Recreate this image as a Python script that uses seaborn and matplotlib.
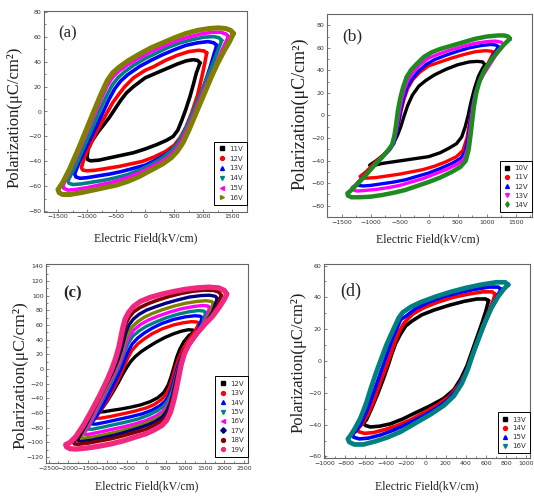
import matplotlib
matplotlib.use("Agg")
import matplotlib.pyplot as plt
from matplotlib.lines import Line2D
from matplotlib.ticker import MultipleLocator
import seaborn as sns
import pandas as pd

# ---------------- data: panel (a) ----------------
a_labels = ["11V", "12V", "13V", "14V", "15V", "16V"]
a11_E = [942, 900, 820, 700, 550, 400, 200, 0, -200, -320, -420, -520, -620, -720, -820, -920, -980, -1000,
         -990, -940, -800, -600, -400, -200, 0, 200, 370, 480, 560, 630, 700, 770, 830, 880, 920, 942]
a11_P = [39, 41, 41.5, 40.5, 38, 35, 31, 27, 20, 15, 9, 2, -5, -11, -17, -24, -30, -36,
         -38.5, -39.5, -39, -37, -35, -33, -30, -26.5, -23, -20, -15, -7, 2, 12, 22, 31, 36, 39]
a12_E = [1057, 1010, 920, 750, 550, 350, 150, 0, -200, -350, -450, -560, -680, -800, -920, -1040, -1098,
         -1070, -1000, -850, -650, -450, -250, -50, 150, 350, 500, 600, 700, 800, 900, 980, 1030, 1057]
a12_P = [47, 48.5, 49, 48, 45, 41, 36, 33, 27, 20, 14, 7, -3, -13, -24, -36, -45,
         -47, -47.5, -47, -45.5, -44, -42, -40, -36.5, -32, -27, -21, -12.5, -1, 13, 29, 40, 47]
a13_E = [1230, 1180, 1080, 900, 700, 500, 300, 100, -100, -300, -420, -520, -620, -720, -850, -1000, -1130, -1213,
         -1190, -1120, -1000, -800, -600, -400, -200, 0, 200, 400, 520, 620, 720, 820, 920, 1020, 1120, 1190, 1230]
a13_P = [53, 55, 56, 55, 53, 49.5, 45.5, 41, 36, 29.5, 24.5, 18.5, 10, 0, -13, -27, -40, -50,
         -52.5, -53.5, -53, -51.5, -50, -48, -45.5, -43, -38.5, -33, -28, -21.5, -13, -2, 9, 22, 36, 47, 53]
a14_E = [1316, 1270, 1180, 1000, 800, 600, 400, 200, 0, -200, -350, -470, -570, -670, -780, -900, -1050, -1200, -1328,
         -1310, -1240, -1100, -900, -700, -500, -300, -100, 100, 300, 450, 560, 660, 760, 860, 960, 1060, 1160, 1250, 1316]
a14_P = [57, 59, 60, 59.5, 57.5, 55, 51.5, 47, 42.5, 37, 32, 27, 21, 12, 1, -12, -28, -44, -55.5,
         -57.5, -58.5, -58, -56.5, -55, -53, -50.5, -47, -42.5, -37, -31.5, -25.5, -17, -7, 4, 15, 27, 38, 49, 57]
a15_E = [1431, 1390, 1300, 1150, 950, 700, 500, 300, 100, -100, -300, -450, -560, -650, -750, -850, -1000, -1150, -1300, -1414,
         -1400, -1330, -1200, -1000, -800, -600, -400, -200, 0, 200, 400, 520, 620, 720, 820, 920, 1020, 1120, 1220, 1330, 1431]
a15_P = [60, 62, 63.5, 63.5, 62, 59, 56, 52, 48, 43, 37.5, 32.5, 27.5, 21, 11, 0, -16, -33, -48, -59.5,
         -61.5, -63, -62.5, -61, -59, -57, -54.5, -51, -47, -42, -36.5, -31, -24, -14.5, -4, 7, 18, 28, 38, 50, 60]
a16_E = [1517, 1470, 1380, 1250, 1100, 900, 700, 500, 300, 100, -100, -300, -450, -560, -650, -750, -850, -1000, -1150, -1300, -1420, -1500,
         -1480, -1420, -1300, -1100, -900, -700, -500, -300, -100, 100, 300, 450, 550, 650, 750, 850, 950, 1050, 1150, 1250, 1350, 1450, 1517]
a16_P = [62.5, 65, 66.5, 67, 66.5, 65, 62.5, 59, 55, 51, 46, 40.5, 35.5, 31, 25, 15, 4, -13, -30, -46, -57, -62.5,
         -65, -66.5, -66.5, -65, -63, -61, -59, -56, -52, -47, -42, -37, -32, -25, -15, -4, 7, 18, 29, 39, 48, 56, 62.5]

# ---------------- data: panel (b) ----------------
b_labels = ["10V", "11V", "12V", "13V", "14V"]
b10_E = [970, 930, 840, 700, 500, 300, 100, -50, -170, -280, -360, -420, -480, -540, -600, -660, -780, -900, -1015,
         -1000, -920, -800, -600, -400, -200, 0, 200, 350, 480, 570, 630, 680, 730, 790, 860, 930, 970]
b10_P = [45, 47.5, 48, 47.5, 45, 41, 36, 31, 26, 18, 9, 0, -10, -18, -24, -29, -35, -40, -44,
         -45, -44, -42.5, -41, -39.5, -38, -36.5, -33, -29, -25, -19, -10, 0, 12, 24, 35, 42, 45]
b11_E = [1120, 1080, 980, 800, 600, 400, 200, 0, -150, -270, -360, -420, -470, -510, -550, -600, -680, -800, -950, -1080, -1180,
         -1150, -1050, -900, -700, -500, -300, -100, 100, 300, 480, 590, 660, 700, 740, 790, 860, 940, 1040, 1120]
b11_P = [56, 57, 57.5, 56.5, 54, 51, 47.5, 44, 38.5, 32, 24, 15, 5, -5, -14, -23, -30, -36, -43, -50, -54,
         -55.5, -55.5, -55, -53.5, -52, -50, -48, -45, -41, -36.5, -31, -20, -8, 4, 16, 28, 38, 48, 56]
b12_E = [1200, 1160, 1070, 900, 700, 500, 300, 100, -50, -180, -290, -370, -430, -480, -520, -555, -600, -680, -800, -950, -1100, -1230,
         -1200, -1130, -1000, -800, -600, -400, -200, 0, 200, 400, 550, 630, 680, 710, 740, 780, 840, 920, 1020, 1120, 1200]
b12_P = [61, 62.5, 63, 62, 60, 57, 53.5, 49.5, 45, 39, 32, 25, 16, 5, -6, -16, -25, -31, -37, -45, -53, -60,
         -62, -62.5, -62, -60.5, -59, -57, -54, -51, -47, -42.5, -38, -32, -20, -8, 4, 15, 26, 35, 44, 54, 61]
b13_E = [1290, 1250, 1150, 1000, 800, 600, 400, 200, 0, -150, -270, -360, -420, -470, -510, -545, -580, -630, -720, -850, -1000, -1150, -1270, -1320,
         -1300, -1230, -1100, -900, -700, -500, -300, -100, 100, 300, 500, 610, 670, 700, 730, 760, 800, 860, 940, 1040, 1150, 1240, 1290]
b13_P = [63, 65, 66, 65.5, 64, 61.5, 58.5, 55, 51, 45, 38, 31, 23, 13, 2, -9, -19, -27, -32, -40, -48, -56, -62, -64,
         -66, -67, -66.5, -65.5, -64, -62, -59, -56, -52, -48, -43, -38.5, -30, -18, -5, 7, 18, 28, 36, 44, 53, 59, 63]
b14_E = [1400, 1370, 1300, 1200, 1000, 800, 600, 400, 200, 50, -80, -200, -300, -380, -440, -490, -530, -560, -590, -630, -700, -800, -950, -1100, -1250, -1350, -1400,
         -1390, -1330, -1200, -1000, -800, -600, -400, -200, 0, 200, 400, 550, 640, 690, 720, 750, 780, 820, 880, 960, 1060, 1180, 1300, 1400]
b14_P = [68, 70, 71, 71, 70, 68, 65, 62, 59, 56, 52, 46, 40.5, 34, 25, 15, 4, -8, -18, -26, -31, -37, -45, -54, -62, -67, -69,
         -71, -72.5, -72.5, -72, -70.5, -68.5, -66, -62.5, -59, -55, -50, -45.5, -40, -30, -18, -5, 8, 20, 31, 40, 48, 56, 63, 68]

# ---------------- data: panel (c) ----------------
c_labels = ["12V", "13V", "14V", "15V", "16V", "17V", "18V", "19V"]
c12_E = [1250, 1200, 1080, 900, 700, 480, 250, 50, -120, -280, -400, -500, -600, -720, -850, -1000, -1120, -1180,
         -1160, -1060, -900, -650, -400, -150, 100, 300, 450, 560, 640, 710, 780, 860, 960, 1100, 1250]
c12_P = [51, 53, 53.5, 51.5, 48, 43, 36.5, 30, 24, 17, 10, 2, -7, -19, -31, -44, -53, -57,
         -58.5, -58, -56.5, -54.5, -52, -49, -44.5, -39, -32, -22, -10, 3, 16, 27, 37, 46, 51]
c13_E = [1350, 1300, 1160, 950, 700, 400, 150, -50, -220, -370, -480, -570, -660, -780, -950, -1150, -1290,
         -1270, -1170, -900, -600, -300, 0, 200, 380, 500, 600, 670, 740, 820, 930, 1070, 1230, 1350]
c13_P = [62, 64, 64.5, 63, 60, 54.5, 48, 41, 34, 25, 14, 3, -8, -21, -38, -56, -65,
         -67, -67, -64.5, -61, -57.5, -53, -48.5, -42, -35, -25, -13, 0, 13, 26, 38, 50, 62]
c14_E = [1430, 1380, 1240, 1000, 700, 400, 150, -50, -220, -360, -460, -550, -640, -750, -900, -1100, -1300, -1400,
         -1380, -1280, -1000, -700, -400, -100, 150, 350, 480, 580, 660, 730, 800, 890, 1020, 1180, 1340, 1430]
c14_P = [70, 72, 72.5, 71, 67.5, 62, 55.5, 49, 42, 34, 24, 13, 1, -12, -28, -49, -67, -73,
         -75, -75, -72, -68.5, -65, -61, -56, -50, -44, -36, -25, -12, 2, 15, 28, 40, 55, 70]
c15_E = [1520, 1470, 1330, 1100, 800, 500, 200, 0, -180, -340, -450, -540, -620, -720, -850, -1050, -1250, -1430, -1500,
         -1480, -1380, -1100, -800, -500, -200, 50, 280, 440, 560, 650, 720, 790, 870, 980, 1130, 1320, 1450, 1520]
c15_P = [77, 79, 79.5, 78, 74.5, 69.5, 63, 58, 52, 45, 36, 25, 13, 0, -14, -35, -56, -75, -80,
         -82, -82, -79, -75.5, -72, -68, -63, -57, -51, -43, -32, -19, -4, 10, 23, 36, 50, 63, 77]
c16_E = [1620, 1570, 1430, 1200, 900, 600, 300, 50, -150, -320, -440, -530, -600, -690, -800, -950, -1150, -1350, -1530, -1600,
         -1580, -1480, -1200, -900, -600, -300, 0, 250, 420, 540, 630, 700, 760, 830, 920, 1050, 1220, 1420, 1550, 1620]
c16_P = [84, 86, 86.5, 85, 82, 77.5, 72, 66.5, 60.5, 53, 44, 33, 21, 8, -5, -20, -42, -64, -83, -87,
         -89, -89, -86, -82.5, -79, -75, -70, -64, -58, -50, -40, -28, -14, 1, 15, 28, 41, 56, 71, 84]
cX_E = [1720, 1670, 1530, 1300, 1000, 700, 400, 150, -50, -220, -360, -460, -540, -600, -680, -780, -900, -1100, -1300, -1500, -1630, -1680,
        -1660, -1570, -1300, -1000, -700, -400, -100, 150, 350, 480, 580, 660, 720, 780, 850, 940, 1080, 1250, 1450, 1620, 1720]
cX_P = [90, 92, 93, 92, 89.5, 85.5, 80.5, 75.5, 70.5, 64.5, 57.5, 49, 38, 27, 14, 1, -12, -33, -54, -75, -88, -92,
        -94, -94, -92, -88.5, -85, -80.5, -75.5, -70, -65, -58, -49, -37, -24, -10, 5, 19, 32, 44, 58, 75, 90]
c17_E = [1820, 1770, 1620, 1400, 1100, 800, 500, 250, 0, -180, -330, -440, -520, -580, -640, -720, -820, -950, -1150, -1350, -1550, -1700, -1760,
         -1740, -1650, -1400, -1100, -800, -500, -200, 50, 250, 420, 530, 610, 680, 740, 800, 860, 950, 1100, 1300, 1500, 1700, 1820]
c17_P = [96, 99, 100.5, 100, 98, 94, 89.5, 85, 80, 74.5, 68, 60, 50, 38, 26, 13, 0, -14, -35, -56, -77, -91, -96,
         -98, -98.5, -97, -93.5, -90, -85.5, -80.5, -76, -71, -65, -57, -47, -34, -20, -6, 8, 22, 35, 48, 61, 78, 96]
c18_E = [1920, 1870, 1730, 1500, 1200, 900, 600, 300, 50, -150, -320, -430, -520, -580, -640, -700, -780, -880, -1000, -1200, -1400, -1600, -1760, -1860,
         -1840, -1750, -1500, -1200, -900, -600, -300, 0, 200, 400, 520, 610, 680, 740, 800, 860, 940, 1060, 1250, 1450, 1650, 1830, 1920]
c18_P = [100, 104.5, 107, 107.5, 106, 103, 99, 94, 89, 84, 78, 71, 62, 50, 36, 24, 10, -3, -16, -38, -58, -78, -93, -100,
         -102, -102.5, -101, -98, -95, -91, -86.5, -82, -77, -71, -64, -54, -40, -27, -12, 4, 18, 32, 45, 57, 70, 88, 100]
c19_E = [2060, 2000, 1850, 1600, 1300, 1000, 700, 400, 100, -150, -330, -450, -540, -600, -650, -700, -780, -880, -1000, -1200, -1400, -1600, -1800, -1950, -2060,
         -2040, -1950, -1800, -1500, -1200, -900, -600, -300, 0, 200, 400, 520, 620, 700, 760, 820, 890, 970, 1100, 1300, 1500, 1700, 1880, 2000, 2060]
c19_P = [102, 107, 110.5, 111.5, 110.5, 108.5, 105.5, 102, 97.5, 92, 85, 77, 68, 56, 43, 30, 15, 0, -15, -37, -57, -76, -92, -100, -103,
         -106, -108.5, -109, -107.5, -105, -102, -98, -93, -88, -83, -77, -70, -59, -44, -30, -14, 5, 20, 35, 49, 61, 72, 85, 95, 102]

# ---------------- data: panel (d) ----------------
d_labels = ["13V", "14V", "15V", "16V"]
d13_E = [625, 595, 510, 380, 230, 80, -40, -140, -200, -250, -300, -340, -370, -420, -480, -540, -590, -620,
         -600, -550, -460, -350, -230, -100, 50, 180, 280, 350, 410, 460, 510, 560, 600, 625]
d13_P = [38, 39, 39, 37.5, 35, 32, 29, 25, 22, 17, 11, 4, -2, -11, -21, -30, -37, -39,
         -40.5, -41.5, -41, -39.5, -36.5, -32.5, -28, -23.5, -18, -11, -3, 6, 15, 24, 32, 38]
d14_E = [690, 660, 570, 420, 270, 120, -20, -130, -215, -260, -300, -345, -395, -450, -510, -570, -630, -680,
         -665, -610, -520, -400, -280, -150, -20, 120, 240, 330, 400, 450, 500, 560, 620, 670, 690]
d14_P = [42, 43.5, 43.5, 42, 40, 37, 33.5, 29.5, 24, 19, 13, 5, -4, -13, -24, -33, -39.5, -43,
         -44.5, -45.5, -45, -43, -40.5, -37, -32.5, -27.5, -22, -15, -7, 1, 10, 20, 30, 38, 42]
d15_E = [750, 720, 630, 480, 330, 180, 30, -100, -190, -250, -290, -330, -375, -425, -475, -530, -590, -650, -700, -730,
         -715, -660, -570, -450, -320, -180, -40, 100, 220, 310, 380, 440, 490, 545, 610, 680, 730, 750]
d15_P = [45, 46.5, 46.5, 45, 43, 40.5, 37, 33, 28.5, 26, 20, 14, 6, -3, -12, -22, -32, -40, -44.5, -46,
         -48, -49, -48.5, -46.5, -43.5, -39.5, -35, -30, -24.5, -18, -10, -1, 8, 17, 27, 37, 43, 45]
d16_E = [820, 790, 700, 550, 400, 250, 100, -50, -150, -230, -270, -310, -350, -395, -445, -495, -545, -595, -650, -710, -750, -775,
         -760, -710, -620, -500, -380, -250, -100, 50, 180, 280, 360, 420, 470, 520, 580, 650, 720, 780, 820]
d16_P = [48, 49.5, 49.5, 48, 46, 43.5, 40.5, 37, 34, 30.5, 27, 21.5, 16, 9.5, 1, -7.5, -17, -27, -36, -43, -47, -49,
         -51, -52.5, -52.5, -50.5, -48, -44.5, -39, -33.5, -28, -22, -14, -5, 4.5, 13, 23, 33, 40.5, 45.5, 48]

BLACK, RED, BLUE, TEAL, MAG, OLIVE = "#000000", "#FF0000", "#0000FF", "#008080", "#FF00FF", "#808000"
NAVY, WINE, PINK, GREEN = "#000080", "#800000", "#F0287F", "#1F8A1F"

sns.set_style("ticks")
plt.rcParams["font.family"] = ["DejaVu Sans"]

fig = plt.figure(figsize=(5.34, 4.98), dpi=100)

def make_ax(px_left, px_right, px_top, px_bottom):
    W, H = 534.0, 498.0
    return fig.add_axes([px_left / W, 1 - px_bottom / H, (px_right - px_left) / W, (px_bottom - px_top) / H])

serif = ["Liberation Serif", "DejaVu Serif"]

def style(ax, xlim, ylim, xmaj, ymaj, xlab_pos, ylab_pos, ylab_size=12, xlab_size=8.5):
    ax.set_xlim(*xlim)
    ax.set_ylim(*ylim)
    ax.xaxis.set_major_locator(MultipleLocator(xmaj))
    ax.xaxis.set_minor_locator(MultipleLocator(xmaj / 2))
    ax.yaxis.set_major_locator(MultipleLocator(ymaj))
    ax.yaxis.set_minor_locator(MultipleLocator(ymaj / 2))
    ax.tick_params(which="both", direction="in", labelsize=4.5, labelcolor="#333333",
                   color="#555555", width=0.5, pad=1.8)
    ax.tick_params(which="major", length=2.5)
    ax.tick_params(which="minor", length=1.5)
    for s in ax.spines.values():
        s.set_color("#666666")
        s.set_linewidth(0.8)
    ax.set_xlabel("Electric Field(kV/cm)", fontsize=xlab_size, family=serif, color="#222222")
    ax.set_ylabel("Polarization(μC/cm²)", fontsize=ylab_size, family=serif, color="#222222")
    ax.xaxis.set_label_coords(*xlab_pos)
    ax.yaxis.set_label_coords(*ylab_pos)

def draw(ax, loops):
    for E, P, c, lw in loops:
        df = pd.DataFrame({"E": E, "P": P})
        sns.lineplot(data=df, x="E", y="P", sort=False, estimator=None, color=c,
                     lw=lw, ax=ax, legend=False, solid_joinstyle="round")

def legend(ax, labels, colors, markers, anchor, spacing):
    handles = [Line2D([], [], ls="none", marker=m, color=c, markersize=2.8) for c, m in zip(colors, markers)]
    lg = ax.legend(handles, labels, loc="lower right", bbox_to_anchor=anchor, fontsize=5,
                   frameon=True, fancybox=False, edgecolor="black", framealpha=1,
                   borderpad=0.6, handletextpad=0.5, labelspacing=spacing, handlelength=1.0,
                   borderaxespad=0)
    lg.get_frame().set_linewidth(0.7)
    for t in lg.get_texts():
        t.set_color("#333333")

# ---- (a)
ax = make_ax(44, 247, 11, 212)
a_colors = [BLACK, RED, BLUE, TEAL, MAG, OLIVE]
draw(ax, [(a11_E, a11_P, BLACK, 2.6), (a12_E, a12_P, RED, 2.6), (a13_E, a13_P, BLUE, 2.6),
          (a14_E, a14_P, TEAL, 2.6), (a15_E, a15_P, MAG, 2.6), (a16_E, a16_P, OLIVE, 3.6)])
style(ax, (-1740, 1750), (-80.5, 80.5), 500, 20, (0.5, -0.10), (-0.105, 0.47), ylab_size=12)
ax.text(0.07, 0.87, "(a)", transform=ax.transAxes, fontsize=12, family=serif)
legend(ax, a_labels, a_colors, ["s", "o", "^", "v", "<", ">"], (1.0, 0.035), 0.55)

# ---- (b)
ax = make_ax(327, 532, 14, 217)
b_colors = [BLACK, RED, BLUE, MAG, GREEN]
draw(ax, [(b10_E, b10_P, BLACK, 2.4), (b11_E, b11_P, RED, 2.4), (b12_E, b12_P, BLUE, 2.4),
          (b13_E, b13_P, MAG, 2.4), (b14_E, b14_P, GREEN, 3.2)])
style(ax, (-1750, 1780), (-90, 90), 500, 20, (0.49, -0.08), (-0.088, 0.507), ylab_size=13)
ax.text(0.073, 0.87, "(b)", transform=ax.transAxes, fontsize=12.5, family=serif)
legend(ax, b_labels, b_colors, ["s", "o", "^", "v", "d"], (1.0, 0.025), 0.45)

# ---- (c)
ax = make_ax(46, 248, 264, 463)
c_colors = [BLACK, RED, BLUE, TEAL, MAG, NAVY, WINE, PINK]
draw(ax, [(c12_E, c12_P, BLACK, 2.4), (c13_E, c13_P, RED, 2.4), (c14_E, c14_P, BLUE, 2.4),
          (c15_E, c15_P, TEAL, 2.4), (c16_E, c16_P, MAG, 2.4), (cX_E, cX_P, OLIVE, 2.4),
          (c17_E, c17_P, NAVY, 2.4), (c18_E, c18_P, WINE, 2.6), (c19_E, c19_P, PINK, 3.8)])
style(ax, (-2565, 2605), (-128, 143), 500, 20, (0.5, -0.085), (-0.088, 0.44), ylab_size=12.5)
ax.text(0.084, 0.83, "(c)", transform=ax.transAxes, fontsize=12, family=serif, weight="bold")
legend(ax, c_labels, c_colors, ["s", "o", "^", "v", "<", "D", "o", "o"], (1.0, 0.03), 0.5)

# ---- (d)
ax = make_ax(324, 530, 264, 458)
d_colors = [BLACK, RED, BLUE, TEAL]
draw(ax, [(d13_E, d13_P, BLACK, 2.6), (d14_E, d14_P, RED, 2.6), (d15_E, d15_P, BLUE, 2.6),
          (d16_E, d16_P, TEAL, 3.4)])
style(ax, (-1012, 1037), (-61, 61), 200, 20, (0.5, -0.113), (-0.085, 0.495), ylab_size=12)
ax.text(0.077, 0.835, "(d)", transform=ax.transAxes, fontsize=13, family=serif)
legend(ax, d_labels, d_colors, ["s", "o", "^", "v"], (1.0, 0.025), 0.4)

fig.savefig("out.png", dpi=100)
